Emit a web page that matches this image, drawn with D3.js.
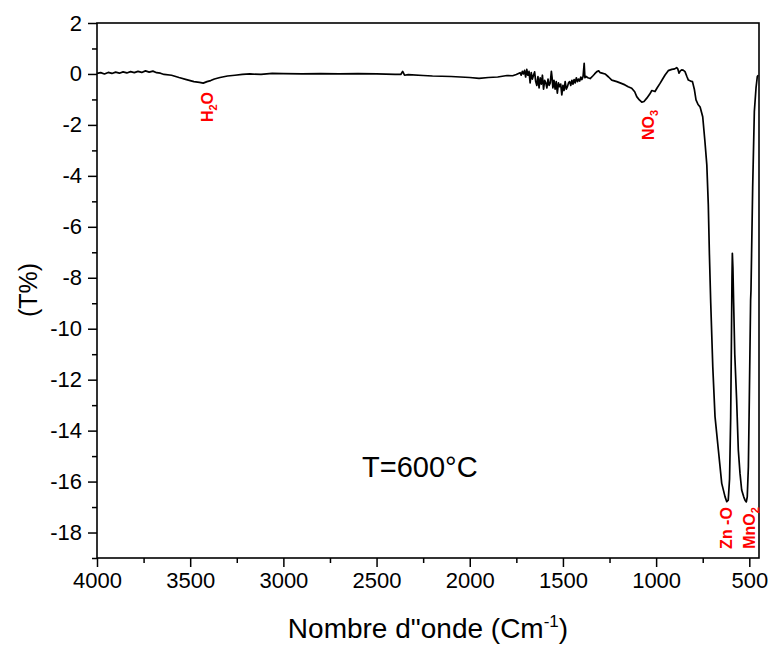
<!DOCTYPE html>
<html>
<head>
<meta charset="utf-8">
<script src="https://cdn.jsdelivr.net/npm/d3@7"></script>
<style>
  body { margin: 0; background: #fff; }
  svg { font-family: "Liberation Sans", Arial, sans-serif; }
</style>
</head>
<body>
<svg class="ftir" width="772" height="648"></svg>
<script>
// FTIR spectrum (cm-1 -> T%)
var wavenumber = [
  4000, 3980, 3960, 3940, 3920, 3900, 3880, 3860, 3840, 3820, 3800, 3780, 3760, 3740, 3720, 3700,
  3680, 3660, 3640, 3600, 3560, 3520, 3480, 3450, 3430, 3410, 3390, 3370, 3340, 3300, 3260, 3220,
  3180, 3120, 3060, 3000, 2900, 2800, 2700, 2600, 2500, 2400, 2370, 2360, 2350, 2330, 2250, 2200,
  2100, 2050, 2000, 1950, 1900, 1850, 1800, 1770, 1750, 1730,
  1724, 1718, 1712, 1706, 1700, 1694, 1688, 1682, 1676, 1670, 1664, 1658, 1652, 1646, 1640, 1634,
  1628, 1622, 1616, 1610, 1604, 1598, 1592, 1586, 1580, 1574, 1568, 1562, 1558, 1554, 1548, 1542,
  1536, 1530, 1524, 1518, 1512, 1506, 1500, 1494, 1488, 1482, 1476, 1470, 1464, 1458, 1452, 1446,
  1440, 1434, 1428, 1422, 1416, 1410, 1404, 1398, 1392, 1386, 1382, 1376, 1366, 1354, 1340, 1330,
  1318, 1308, 1300, 1290, 1274, 1255, 1238, 1211, 1190, 1167, 1150, 1131, 1115, 1104, 1090, 1077,
  1065, 1050, 1035, 1023, 1006, 995, 979, 965, 952, 935, 916, 900, 890, 884, 877, 870,
  863, 855, 845, 835, 827, 815, 805, 795, 786, 775, 764, 750, 738, 728, 720, 714,
  707, 696, 684, 666, 648, 630, 621, 613, 606, 600, 596, 593, 591, 588, 584, 578,
  568, 559, 550, 541, 530, 523, 516, 511, 505, 500, 493, 491, 482, 473, 464, 457, 452
];
var transmittance = [
  0.02, 0.05, 0.00, 0.06, 0.02, 0.07, 0.03, 0.08, 0.04, 0.09, 0.05, 0.10, 0.06, 0.12, 0.07, 0.11,
  0.05, 0.03, -0.02, -0.05, -0.14, -0.22, -0.30, -0.33, -0.36, -0.30, -0.26, -0.20, -0.14, -0.08, -0.05, -0.02,
  0.00, -0.02, 0.02, 0.01, 0.00, 0.01, 0.00, 0.01, 0.00, -0.02, -0.02, 0.10, -0.05, -0.03, -0.06, -0.08,
  -0.10, -0.12, -0.14, -0.17, -0.14, -0.12, -0.06, -0.07, -0.02, 0.05,
  -0.05, 0.10, 0.00, 0.14, -0.12, 0.18, -0.05, 0.10, -0.35, 0.05, -0.20, -0.05, 0.08, -0.30, -0.45, -0.10,
  -0.55, -0.15, -0.40, -0.05, -0.60, -0.25, -0.35, -0.55, -0.20, -0.45, -0.35, 0.10, -0.15, -0.55, -0.25, -0.60,
  -0.30, -0.75, -0.35, -0.50, -0.40, -0.82, -0.45, -0.65, -0.30, -0.60, -0.50, -0.35, -0.30, -0.45, -0.25, -0.40,
  -0.22, -0.35, -0.15, -0.30, -0.20, -0.28, -0.12, -0.22, -0.10, 0.42, -0.15, -0.10, -0.15, -0.18, -0.08, 0.00,
  0.09, 0.12, 0.05, 0.03, 0.00, -0.12, -0.24, -0.30, -0.36, -0.43, -0.50, -0.56, -0.70, -0.89, -1.02, -1.11,
  -1.08, -0.95, -0.80, -0.65, -0.69, -0.55, -0.37, -0.20, -0.04, 0.13, 0.18, 0.20, 0.25, 0.20, 0.03, 0.12,
  0.16, 0.15, 0.09, -0.10, -0.24, -0.28, -0.30, -0.60, -1.02, -1.20, -1.30, -1.68, -2.66, -3.57, -5.14, -7.11,
  -8.99, -11.49, -13.45, -14.76, -16.07, -16.60, -16.79, -16.73, -15.90, -13.50, -10.50, -8.00, -7.04, -7.60, -9.00, -11.00,
  -12.80, -14.76, -15.67, -16.33, -16.60, -16.73, -16.80, -16.60, -15.42, -12.80, -8.87, -8.50, -4.48, -1.48, -0.55, -0.10, -0.05
];

var xTicks = [4000, 3500, 3000, 2500, 2000, 1500, 1000, 500];
var xMinor = [3750, 3250, 2750, 2250, 1750, 1250, 750];
var yTicks = [2, 0, -2, -4, -6, -8, -10, -12, -14, -16, -18];
var yMinor = [1, -1, -3, -5, -7, -9, -11, -13, -15, -17, -19];

// band labels (rotated): text, subscript, trailing text, anchor point
var bands = [
  { text: 'H', sub: '2', tail: 'O', cx: 213, cy: 107 },
  { text: 'NO', sub: '3', tail: '', cx: 654, cy: 125 },
  { text: 'Zn -O', sub: '', tail: '', cx: 732, cy: 528 },
  { text: 'MnO', sub: '2', tail: '', cx: 755, cy: 528 }
];

var plotLeft = 97, plotRight = 759, plotTop = 23, plotBottom = 558;

var x = d3.scaleLinear()
  .domain([4000, 448])
  .range([plotLeft, plotRight]);

var y = d3.scaleLinear()
  .domain([-19, 2])
  .range([plotBottom, plotTop]);

var svg = d3.select('svg.ftir');

svg.append('rect')
  .attr('width', 772).attr('height', 648)
  .attr('fill', '#fff');

var points = d3.zip(wavenumber, transmittance);

var line = d3.line()
  .x(function(d) { return x(d[0]); })
  .y(function(d) { return y(d[1]); });

svg.append('path')
  .datum(points)
  .attr('d', line)
  .attr('fill', 'none')
  .attr('stroke', '#000')
  .attr('stroke-width', 1.7)
  .attr('stroke-linejoin', 'round');

// plain hyphen for negatives, like the original
var plain = function(d) { return String(d); };

// axes: major + minor ticks, outward
function styleAxis(g) {
  g.select('.domain').remove();
  g.selectAll('line').attr('stroke', '#000').attr('stroke-width', 1.5);
  g.selectAll('text').attr('fill', '#000').attr('font-size', 22)
    .attr('font-family', '"Liberation Sans", Arial, sans-serif');
}

svg.append('g')
  .attr('transform', 'translate(0,' + plotBottom + ')')
  .call(d3.axisBottom(x).tickValues(xTicks).tickSize(9).tickPadding(5).tickFormat(plain))
  .call(styleAxis);

svg.append('g')
  .attr('transform', 'translate(0,' + plotBottom + ')')
  .call(d3.axisBottom(x).tickValues(xMinor).tickSize(5).tickFormat(''))
  .call(styleAxis);

svg.append('g')
  .attr('transform', 'translate(' + plotLeft + ',0)')
  .call(d3.axisLeft(y).tickValues(yTicks).tickSize(9).tickPadding(6).tickFormat(plain))
  .call(styleAxis);

svg.append('g')
  .attr('transform', 'translate(' + plotLeft + ',0)')
  .call(d3.axisLeft(y).tickValues(yMinor).tickSize(5).tickFormat(''))
  .call(styleAxis);

// frame
svg.append('rect')
  .attr('x', plotLeft).attr('y', plotTop)
  .attr('width', plotRight - plotLeft).attr('height', plotBottom - plotTop)
  .attr('fill', 'none')
  .attr('stroke', '#000')
  .attr('stroke-width', 1.6);

// axis titles
var xt = svg.append('text')
  .attr('x', 428).attr('y', 638)
  .attr('text-anchor', 'middle')
  .attr('font-size', 28)
  .text("Nombre d\"onde (Cm");
xt.append('tspan').attr('dy', -11).attr('font-size', 17).text('-1');
xt.append('tspan').attr('dy', 11).text(')');

svg.append('text')
  .attr('transform', 'translate(37,290) rotate(-90)')
  .attr('text-anchor', 'middle')
  .attr('font-size', 25)
  .text('(T%)');

svg.append('text')
  .attr('x', 362).attr('y', 477)
  .attr('font-size', 29)
  .text('T=600°C');

// red band labels, rotated
var lbl = svg.selectAll('text.band')
  .data(bands)
  .enter()
    .append('text')
      .attr('class', 'band')
      .attr('transform', function(d) { return 'translate(' + d.cx + ',' + d.cy + ') rotate(-90)'; })
      .attr('text-anchor', 'middle')
      .attr('font-size', 16)
      .attr('font-weight', 'bold')
      .attr('fill', '#ff0000');

lbl.append('tspan').text(function(d) { return d.text; });
lbl.filter(function(d) { return d.sub; })
  .append('tspan').attr('dy', 4).attr('font-size', 11).text(function(d) { return d.sub; });
lbl.filter(function(d) { return d.tail; })
  .append('tspan').attr('dy', -4).text(function(d) { return d.tail; });
</script>
</body>
</html>
